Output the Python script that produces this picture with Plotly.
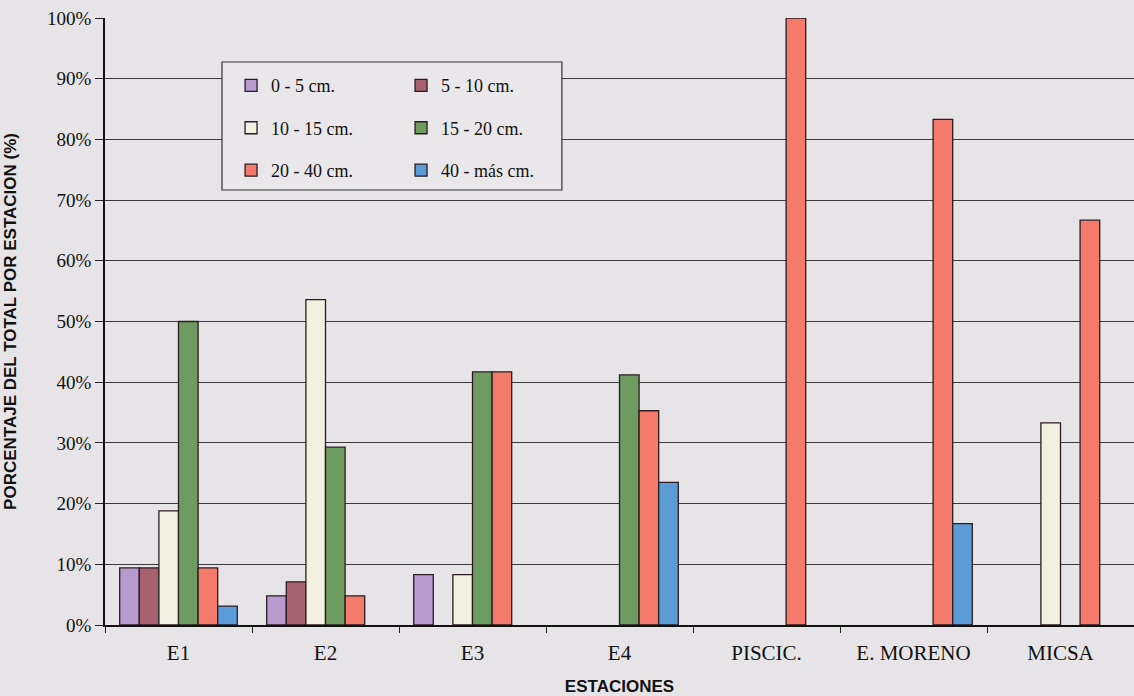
import plotly.graph_objects as go

categories = ["E1", "E2", "E3", "E4", "PISCIC.", "E. MORENO", "MICSA"]
series_names = ["0 - 5 cm.", "5 - 10 cm.", "10 - 15 cm.", "15 - 20 cm.", "20 - 40 cm.", "40 - más cm."]
s_0_5 = [9.4, 4.8, 8.3, None, None, None, None]
s_5_10 = [9.4, 7.1, None, None, None, None, None]
s_10_15 = [18.8, 53.6, 8.3, None, None, None, 33.3]
s_15_20 = [50.0, 29.3, 41.7, 41.2, None, None, None]
s_20_40 = [9.4, 4.8, 41.7, 35.3, 100.0, 83.3, 66.7]
s_40_mas = [3.1, None, None, 23.5, None, 16.7, None]
y_ticks = [0, 10, 20, 30, 40, 50, 60, 70, 80, 90, 100]
y_tick_labels = [f"{v}%" for v in y_ticks]

series_values = [s_0_5, s_5_10, s_10_15, s_15_20, s_20_40, s_40_mas]
colors = ["#b79bcf", "#a8616f", "#f2f0e0", "#6e9b60", "#f47a6c", "#5b9bd6"]
legend_ref = ["legend", "legend2", "legend", "legend2", "legend", "legend2"]

BG = "#e6e4e6"
fig = go.Figure()
for i, (name, vals) in enumerate(zip(series_names, series_values)):
    fig.add_trace(go.Bar(
        x=categories, y=vals, name=name,
        marker=dict(color=colors[i], line=dict(color="#2a1c22", width=1.3)),
        legend=legend_ref[i], legendgroup=name,
    ))

legend_common = dict(
    bgcolor="rgba(0,0,0,0)", borderwidth=0,
    font=dict(family="Liberation Serif", size=18, color="#111"),
    orientation="v", tracegroupgap=16, yanchor="top", xanchor="left",
    itemclick=False,
)

fig.update_layout(
    width=1134, height=696,
    margin=dict(l=105, r=0, t=18, b=71),
    paper_bgcolor=BG, plot_bgcolor=BG,
    barmode="group", bargap=0.2, bargroupgap=0,
    legend=dict(x=0.1225, y=0.919, **legend_common),
    legend2=dict(x=0.2877, y=0.919, **legend_common),
    shapes=[dict(type="rect", xref="paper", yref="paper",
                 x0=0.1137, x1=0.444, y0=0.7166, y1=0.9275,
                 line=dict(color="#333", width=1.2), fillcolor="#e9e7e9", layer="above")],
    xaxis=dict(
        type="category", tickson="boundaries", ticks="outside", ticklen=6,
        tickcolor="#222", showline=True, linecolor="#111", linewidth=1.5,
        tickfont=dict(family="Liberation Serif", size=21, color="#111"),
        ticklabelstandoff=8,
        title=dict(text="<b>ESTACIONES</b>", font=dict(family="Liberation Sans", size=17, color="#111"), standoff=22),
        showgrid=False, automargin=False,
    ),
    yaxis=dict(
        range=[0, 100], tickmode="array", tickvals=y_ticks, ticktext=y_tick_labels,
        ticks="outside", ticklen=8,
        tickcolor="#222", showline=True, linecolor="#111", linewidth=1.5,
        tickfont=dict(family="Liberation Serif", size=19, color="#111"),
        showgrid=True, gridcolor="#3c3a3c", gridwidth=1, zeroline=False,
        title=dict(text="<b>PORCENTAJE DEL TOTAL POR ESTACION (%)</b>", font=dict(family="Liberation Sans", size=17, color="#111"), standoff=26),
        automargin=False,
    ),
)

fig.write_html("out.html", config={"displayModeBar": False},
               post_script="document.body.style.margin='0';document.body.style.background='%s';" % BG)
